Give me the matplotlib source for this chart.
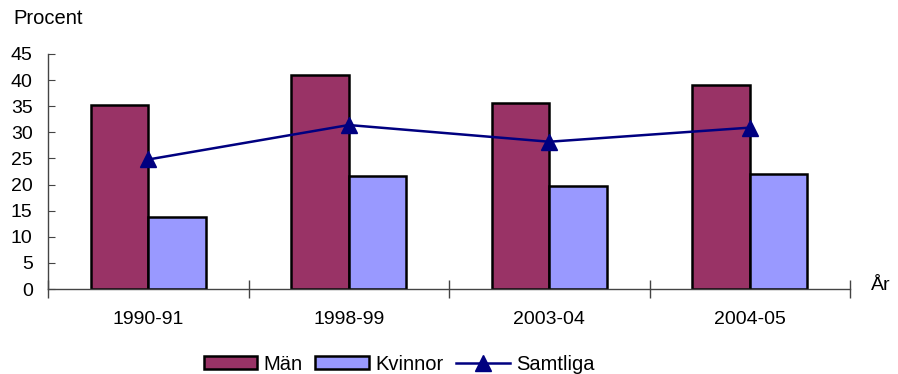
import numpy as np
import matplotlib
matplotlib.use("Agg")
import matplotlib.pyplot as plt

plt.rcParams['font.family'] = ['Liberation Sans', 'DejaVu Sans']

# --- Data ---
periods = ['1990-91', '1998-99', '2003-04', '2004-05']
man = [35.3, 41.0, 35.6, 39.1]
kvinnor = [13.7, 21.6, 19.7, 22.0]
samtliga = [24.8, 31.4, 28.2, 30.9]

# --- Figure ---
fig = plt.figure(figsize=(8.98, 3.74), dpi=100)
ax = fig.add_axes([48 / 898, 85 / 374, 802 / 898, 235 / 374])

x = np.arange(len(periods))
w = 0.287
b1 = ax.bar(x - w / 2, man, w, color='#993366', edgecolor='black', linewidth=1.8,
            label='Män', zorder=2)
b2 = ax.bar(x + w / 2, kvinnor, w, color='#9999FF', edgecolor='black', linewidth=1.8,
            label='Kvinnor', zorder=2)
ln, = ax.plot(x, samtliga, color='#000080', linewidth=1.8, marker='^', markersize=11,
              label='Samtliga', zorder=3)

ax.set_xlim(-0.5, len(periods) - 0.5)
ax.set_ylim(0, 45)
ax.set_yticks(range(0, 46, 5))

# category boundaries as ticks, labels centred under each group
ax.set_xticks(np.arange(-0.5, len(periods), 1.0))
ax.set_xticklabels([])
ax.set_xticks(x, minor=True)
ax.set_xticklabels(periods, minor=True)
ax.tick_params(axis='x', which='major', direction='inout', length=13,
               color='#444444', width=1)
ax.tick_params(axis='x', which='minor', length=0, pad=16, labelsize=14)
ax.tick_params(axis='y', direction='in', length=5, color='#444444',
               labelsize=14, pad=11)

for side in ('top', 'right'):
    ax.spines[side].set_visible(False)
for side in ('left', 'bottom'):
    ax.spines[side].set_color('#444444')
    ax.spines[side].set_linewidth(1)

fig.text(13 / 898, 1 - 19 / 374, 'Procent', fontsize=14.5, va='center', ha='left')
fig.text(871 / 898, 1 - 286 / 374, 'År', fontsize=14, va='center', ha='left')

fig.legend([b1, b2, ln], ['Män', 'Kvinnor', 'Samtliga'],
           loc='center', bbox_to_anchor=(399 / 898, 1 - 364 / 374), ncol=3,
           frameon=False, fontsize=14.5, handlelength=2.65, handleheight=0.65,
           handletextpad=0.3, columnspacing=0.65, borderpad=0)

fig.savefig('out.png', dpi=100)
